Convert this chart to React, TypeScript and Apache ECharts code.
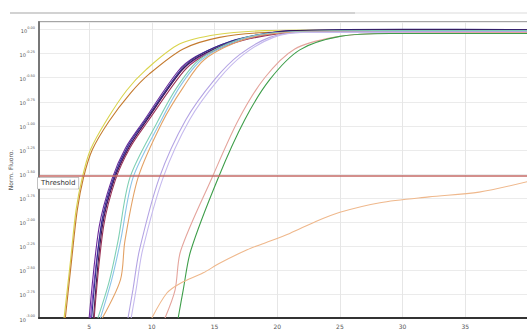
import React, { useEffect, useRef } from "react";
import * as echarts from "echarts";

// Amplification curves: [cycle, log10(normalised fluorescence)]
const yellowCurve = [[3.0,-3.0],[3.5,-2.42],[3.95,-1.88],[4.45,-1.54],[5.1,-1.25],[6.4,-0.94],[8.0,-0.63],[9.5,-0.42],[12.2,-0.15],[15.2,-0.05],[19,-0.01],[25,0.0],[32,0.0],[40,0.0]];
const orangeBrownCurve = [[3.1,-3.0],[3.6,-2.4],[4.05,-1.88],[4.55,-1.54],[5.25,-1.25],[6.6,-0.95],[8.3,-0.66],[9.8,-0.46],[12.5,-0.2],[15.4,-0.08],[19,-0.03],[25,-0.02],[40,-0.02]];
const purpleCurve = [[5.0,-3.0],[5.8,-2.05],[6.8,-1.56],[7.9,-1.23],[9.35,-0.95],[12.1,-0.43],[13.5,-0.28],[16.1,-0.13],[18.8,-0.05],[21,-0.01],[30,0.0],[40,0.0]];
const violetCurve = [[5.1,-3.0],[5.9,-2.1],[6.9,-1.58],[8.0,-1.25],[9.45,-0.97],[12.2,-0.45],[13.6,-0.3],[16.2,-0.14],[18.9,-0.06],[21.2,-0.02],[30,-0.01],[40,-0.01]];
const navyCurve = [[5.2,-3.0],[6.0,-2.0],[6.95,-1.54],[8.05,-1.22],[9.5,-0.94],[12.3,-0.42],[13.7,-0.27],[16.3,-0.12],[19,-0.04],[21.5,-0.01],[30,0.005],[40,0.0]];
const darkPurpleCurve = [[5.35,-3.0],[6.05,-2.05],[7.0,-1.56],[8.15,-1.23],[9.55,-0.95],[12.35,-0.43],[13.75,-0.28],[16.35,-0.13],[19.05,-0.05],[21.5,-0.01],[30,0.0],[40,-0.005]];
const maroonCurve = [[5.4,-3.0],[6.15,-2.05],[7.1,-1.56],[8.25,-1.23],[9.7,-0.95],[12.5,-0.44],[13.9,-0.29],[16.5,-0.14],[19.2,-0.06],[22,-0.02],[30,-0.01],[40,-0.01]];
const tealCurve = [[5.7,-3.0],[6.6,-2.62],[7.3,-2.2],[8.25,-1.54],[10.4,-0.97],[12.0,-0.6],[13.8,-0.31],[17.0,-0.1],[20.2,-0.03],[28,-0.01],[40,-0.01]];
const lightBlueCurve = [[5.9,-3.0],[6.8,-2.6],[7.5,-2.2],[8.5,-1.54],[10.6,-0.98],[12.2,-0.6],[14.0,-0.31],[17.2,-0.1],[20.5,-0.03],[28,-0.02],[40,-0.02]];
const orangeTanCurve = [[6.05,-3.0],[7.5,-2.6],[7.85,-2.2],[8.9,-1.54],[10.8,-0.97],[12.5,-0.6],[14.2,-0.31],[17.4,-0.1],[21,-0.03],[28,-0.02],[40,-0.03]];
const lavenderCurve = [[8.1,-3.0],[8.5,-2.7],[9.0,-2.3],[10.6,-1.54],[12.7,-0.94],[15.0,-0.52],[17.0,-0.26],[19.4,-0.08],[21.8,-0.03],[30,-0.02],[40,-0.02]];
const lilacCurve = [[8.35,-3.0],[8.75,-2.7],[9.25,-2.3],[10.9,-1.54],[13.0,-0.94],[15.3,-0.52],[17.3,-0.26],[19.7,-0.08],[22.1,-0.03],[30,-0.03],[40,-0.03]];
const pinkCurve = [[11.05,-3.0],[11.85,-2.71],[12.3,-2.3],[14.8,-1.54],[16.9,-0.94],[19.0,-0.5],[21.4,-0.2],[24.5,-0.08],[28,-0.04],[40,-0.03]];
const greenCurve = [[12.1,-3.0],[12.5,-2.71],[13.1,-2.3],[15.3,-1.54],[17.4,-0.94],[19.4,-0.52],[21.8,-0.21],[25,-0.07],[29,-0.04],[40,-0.04]];
const slowTanCurve = [[10.0,-3.0],[11.2,-2.74],[12.25,-2.64],[14.1,-2.53],[15.4,-2.43],[17.6,-2.29],[18.8,-2.23],[21,-2.12],[23,-2.0],[25,-1.9],[28.2,-1.8],[32.1,-1.74],[36.1,-1.69],[40,-1.58]];

const curveNames = ["A1","A2","B1","B2","B3","B4","B5","C1","C2","C3","D1","D2","E1","E2","F1"];
const curves = [yellowCurve, orangeBrownCurve, purpleCurve, violetCurve, navyCurve, darkPurpleCurve, maroonCurve, tealCurve, lightBlueCurve, orangeTanCurve, lavenderCurve, lilacCurve, pinkCurve, greenCurve, slowTanCurve];
const curveColors = ["#d9d44c","#c47a2e","#6a2a9a","#9048c8","#2e2e8e","#3a1650","#9a3458","#7fd0b4","#8cc4e8","#e3a266","#b4a4e4","#c6baee","#e4a49c","#3e9e4a","#efb88c"];

const thresholdLog = -1.52;
const yMinLog = -3;
const yMaxLog = 0.08;
const xMinCycle = 1;
const xMaxCycle = 40;

export default function App() {
  const ref = useRef<HTMLDivElement>(null);
  useEffect(() => {
    if (!ref.current) return;
    const chart = echarts.init(ref.current, undefined, { renderer: "svg" });
    const series: any[] = curves.map((d, i) => ({
      name: curveNames[i],
      type: "line",
      data: d,
      showSymbol: false,
      smooth: 0.3,
      lineStyle: { color: curveColors[i], width: 1.1 },
      itemStyle: { color: curveColors[i] },
      z: 2,
    }));
    series[0].markLine = {
      silent: true,
      symbol: "none",
      z: 5,
      lineStyle: { color: "#c46a66", width: 1.6, type: "solid" },
      label: {
        show: true,
        position: "insideStartBottom",
        formatter: "Threshold",
        fontSize: 7,
        fontFamily: "DejaVu Sans",
        color: "#333",
        backgroundColor: "#fff",
        borderColor: "#999",
        borderWidth: 0.6,
        padding: [2, 3],
        distance: [-1, 2],
      },
      data: [{ yAxis: thresholdLog }],
    };
    chart.setOption({
      animation: false,
      backgroundColor: "#fff",
      grid: {
        left: 39,
        right: -1,
        top: 22,
        bottom: 18,
        containLabel: false,
        outerBoundsMode: "none",
        show: true,
        borderColor: "#888",
        borderWidth: 1.5,
      },
      graphic: [
        { type: "rect", shape: { x: 10, y: 12, width: 345, height: 2 }, style: { fill: "#d2d2d2" } },
        { type: "rect", shape: { x: 355, y: 12, width: 172, height: 2 }, style: { fill: "#ededed" } },
      ],
      xAxis: {
        type: "value",
        min: xMinCycle,
        max: xMaxCycle,
        splitNumber: 8,
        minInterval: 5,
        maxInterval: 5,
        axisLine: { onZero: false, lineStyle: { color: "#333", width: 2 } },
        axisTick: { show: false },
        axisLabel: { fontSize: 6, color: "#555", margin: 5, showMinLabel: false, showMaxLabel: false, fontFamily: "DejaVu Sans" },
        splitLine: { show: true, lineStyle: { color: "#e6e6e6", width: 1 } },
      },
      yAxis: {
        type: "value",
        min: yMinLog,
        max: yMaxLog,
        interval: 0.25,
        name: "Norm. Fluoro.",
        nameLocation: "middle",
        nameRotate: 90,
        nameGap: 26,
        nameMoveOverlap: false,
        nameTextStyle: { fontSize: 6, color: "#555", fontFamily: "DejaVu Sans" },
        axisLine: { show: true, onZero: false, lineStyle: { color: "#777", width: 2 } },
        axisTick: { show: false },
        axisLabel: {
          margin: 4,
          showMaxLabel: false,
          formatter: (v: number) => "{b|10}{s|" + v.toFixed(2) + "}",
          rich: {
            b: { fontSize: 5, lineHeight: 8, verticalAlign: "bottom", color: "#555", fontFamily: "DejaVu Sans" },
            s: { fontSize: 3.5, lineHeight: 4, verticalAlign: "top", color: "#555", fontFamily: "DejaVu Sans" },
          },
        },
        splitLine: { show: true, lineStyle: { color: "#ebebeb", width: 1 } },
      },
      series,
    });
    return () => chart.dispose();
  }, []);
  return <div ref={ref} style={{ position: "absolute", left: 0, top: 0, width: 527, height: 336 }} />;
}
